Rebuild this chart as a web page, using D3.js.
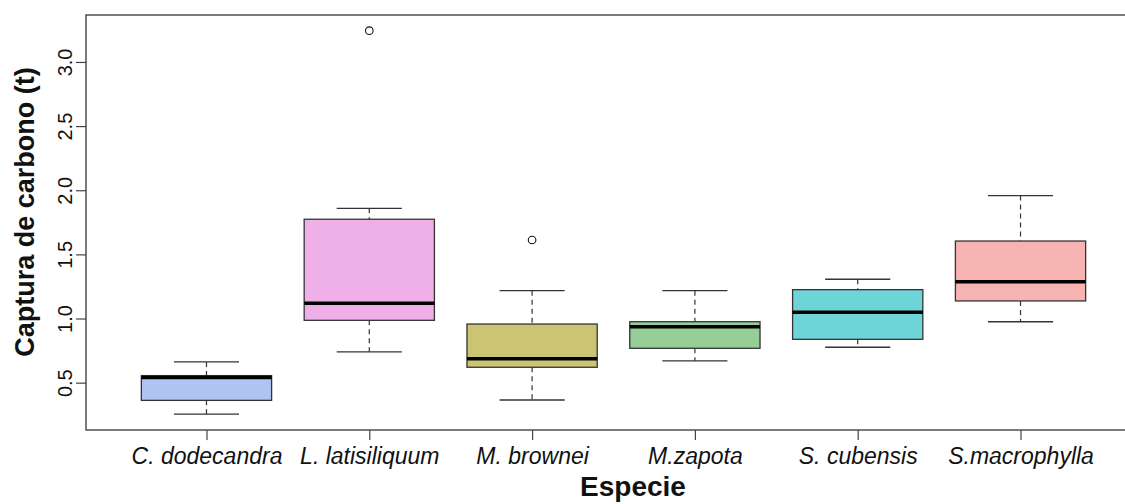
<!DOCTYPE html>
<html>
<head>
<meta charset="utf-8">
<script src="https://cdn.jsdelivr.net/npm/d3@7"></script>
<style>
  body { margin: 0; background: #fff; }
  svg { display: block; font-family: "Liberation Sans", Arial, sans-serif; }
</style>
</head>
<body>
<div id="container"></div>
<script>
// boxplot stats
const species = ["C. dodecandra", "L. latisiliquum", "M. brownei", "M.zapota", "S. cubensis", "S.macrophylla"];
const whiskerLow = [0.255, 0.74, 0.365, 0.67, 0.776, 0.975];
const q1 = [0.362, 0.986, 0.62, 0.768, 0.838, 1.137];
const medians = [0.54, 1.12, 0.687, 0.936, 1.049, 1.287];
const q3 = [0.555, 1.774, 0.957, 0.975, 1.225, 1.604];
const whiskerHigh = [0.662, 1.859, 1.217, 1.217, 1.306, 1.958];
const outliers = [[], [3.244], [1.612], [], [], []];
const fills = ["#b0c4f4", "#eeb0e6", "#cbc472", "#95cf97", "#6dd4d8", "#f7b2b2"];
const yTicks = [0.5, 1.0, 1.5, 2.0, 2.5, 3.0];

const W = 1125, H = 504;
const margin = {top: 15, left: 86, bottom: 430, right: 1141};

const svg = d3.select("#container")
  .append("svg")
  .attr("width", W)
  .attr("height", H);

svg.append("rect").attr("width", W).attr("height", H).attr("fill", "#fff");

const x = d3.scaleLinear()
  .domain([0.26, species.length + 0.74])
  .range([margin.left, margin.right]);

const y = d3.scaleLinear()
  .domain([0.131, 3.366])
  .range([margin.bottom, margin.top]);

const boxW = x(1.8) - x(1);
const capW = boxW / 2;

const data = species.map((s, i) => ({
  name: s, pos: i + 1, lo: whiskerLow[i], q1: q1[i], med: medians[i],
  q3: q3[i], hi: whiskerHigh[i], out: outliers[i], fill: fills[i]
}));

const boxes = svg.append("g")
  .selectAll("g")
  .data(data)
  .join("g");

// whiskers
boxes.append("line")
  .attr("x1", d => x(d.pos)).attr("x2", d => x(d.pos))
  .attr("y1", d => y(d.hi)).attr("y2", d => y(d.q3))
  .attr("stroke", "#333").attr("stroke-width", 1.2)
  .attr("stroke-dasharray", "5,4");
boxes.append("line")
  .attr("x1", d => x(d.pos)).attr("x2", d => x(d.pos))
  .attr("y1", d => y(d.q1)).attr("y2", d => y(d.lo))
  .attr("stroke", "#333").attr("stroke-width", 1.2)
  .attr("stroke-dasharray", "5,4");

// caps
boxes.append("line")
  .attr("x1", d => x(d.pos) - capW / 2).attr("x2", d => x(d.pos) + capW / 2)
  .attr("y1", d => y(d.hi)).attr("y2", d => y(d.hi))
  .attr("stroke", "#333").attr("stroke-width", 1.3);
boxes.append("line")
  .attr("x1", d => x(d.pos) - capW / 2).attr("x2", d => x(d.pos) + capW / 2)
  .attr("y1", d => y(d.lo)).attr("y2", d => y(d.lo))
  .attr("stroke", "#333").attr("stroke-width", 1.3);

// box
boxes.append("rect")
  .attr("x", d => x(d.pos) - boxW / 2)
  .attr("width", boxW)
  .attr("y", d => y(d.q3))
  .attr("height", d => y(d.q1) - y(d.q3))
  .attr("fill", d => d.fill)
  .attr("stroke", "#333")
  .attr("stroke-width", 1.3);

// median
boxes.append("line")
  .attr("x1", d => x(d.pos) - boxW / 2).attr("x2", d => x(d.pos) + boxW / 2)
  .attr("y1", d => y(d.med)).attr("y2", d => y(d.med))
  .attr("stroke", "#000").attr("stroke-width", 3.5);

// outliers
boxes.selectAll("circle")
  .data(d => d.out.map(v => ({pos: d.pos, v: v})))
  .join("circle")
  .attr("cx", d => x(d.pos))
  .attr("cy", d => y(d.v))
  .attr("r", 3.8)
  .attr("fill", "none")
  .attr("stroke", "#111")
  .attr("stroke-width", 1.1);

// frame
svg.append("rect")
  .attr("x", margin.left).attr("y", margin.top)
  .attr("width", margin.right - margin.left)
  .attr("height", margin.bottom - margin.top)
  .attr("fill", "none")
  .attr("stroke", "#444")
  .attr("stroke-width", 1.4);

// y axis
const yAxis = svg.append("g")
  .attr("transform", `translate(${margin.left},0)`)
  .call(d3.axisLeft(y).tickValues(yTicks).tickFormat(d3.format(".1f")).tickSize(10));
yAxis.select(".domain").remove();
yAxis.selectAll("line").attr("stroke", "#444").attr("stroke-width", 1.2);
yAxis.selectAll("text")
  .attr("transform", "rotate(-90)")
  .attr("x", 0).attr("y", -14).attr("dy", 0)
  .attr("text-anchor", "middle")
  .attr("fill", "#111")
  .style("font-size", "20px")
  .style("font-family", "Liberation Sans, Arial, sans-serif");

// x axis
const xAxis = svg.append("g")
  .attr("transform", `translate(0,${margin.bottom})`)
  .call(d3.axisBottom(x).tickValues(data.map(d => d.pos)).tickFormat((d, i) => species[i]).tickSize(10));
xAxis.select(".domain").remove();
xAxis.selectAll("line").attr("stroke", "#444").attr("stroke-width", 1.2);
xAxis.selectAll("text")
  .attr("y", 34).attr("dy", 0)
  .attr("fill", "#111")
  .style("font-size", "23px")
  .style("font-style", "italic")
  .style("font-family", "Liberation Sans, Arial, sans-serif");

// axis titles
svg.append("text")
  .attr("transform", "translate(34,212) rotate(-90)")
  .attr("text-anchor", "middle")
  .style("font-size", "27px")
  .style("font-weight", "bold")
  .attr("fill", "#111")
  .text("Captura de carbono (t)");

svg.append("text")
  .attr("x", 633).attr("y", 496)
  .attr("text-anchor", "middle")
  .style("font-size", "28px")
  .style("font-weight", "bold")
  .attr("fill", "#111")
  .text("Especie");
</script>
</body>
</html>
